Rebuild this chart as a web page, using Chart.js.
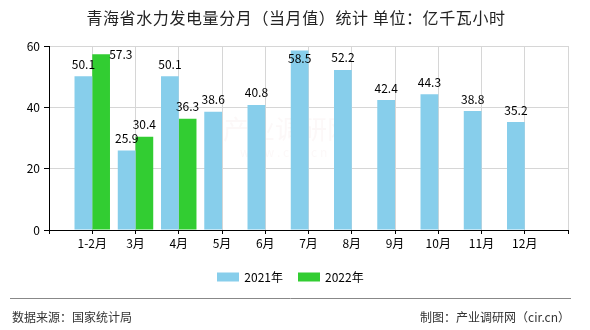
<!DOCTYPE html>
<html><head><meta charset="utf-8">
<script src="https://cdn.jsdelivr.net/npm/chart.js@4/dist/chart.umd.min.js"></script>
<style>html,body{margin:0;padding:0;background:#fff}#wrap{width:590px;height:330px}</style>
</head><body><div id="wrap"><canvas id="c" width="590" height="330"></canvas></div>
<script>
const chartTitle = '青海省水力发电量分月（当月值）统计 单位：亿千瓦小时';
const months = ['1-2月','3月','4月','5月','6月','7月','8月','9月','10月','11月','12月'];
const series2021 = [50.1,25.9,50.1,38.6,40.8,58.5,52.2,42.4,44.3,38.8,35.2];
const series2022 = [57.3,30.4,36.3];
const seriesNames = ['2021年','2022年'];
const yTicks = [0,20,40,60];
const sourceText = '数据来源：国家统计局';
const makerText = '制图：产业调研网（cir.cn）';

const COLORS = ['#87CEEB','#32CD32'];
const FONT = "'Noto Sans CJK SC', 'Noto Sans', sans-serif";

// pad with empty categories at both ends (axis spans one slot beyond first/last month)
const labels = [''].concat(months, ['']);
function pad(arr){ const out=[null]; for(let i=0;i<months.length;i++){ out.push(i<arr.length?arr[i]:null);} out.push(null); return out; }

const decor = {
  id:'decor',
  beforeDraw(chart){
    const ctx=chart.ctx;
    ctx.save();
    ctx.fillStyle='#fff'; ctx.fillRect(0,0,chart.width,chart.height);
    // faint watermark
    ctx.fillStyle='rgba(210,160,160,0.07)';
    ctx.font="26px "+FONT; ctx.textAlign='left'; ctx.textBaseline='middle';
    ctx.fillText('产业调研网',223,129);
    ctx.font="12px "+FONT;
    ctx.fillText('w w w . c i r . c n',240,152);
    ctx.restore();
  },
  afterDraw(chart){
    const ctx=chart.ctx;
    ctx.save();
    // title
    ctx.fillStyle='#222'; ctx.font="16px "+FONT; ctx.textAlign='center'; ctx.textBaseline='middle';
    try{ ctx.letterSpacing='0.6px'; }catch(e){}
    ctx.fillText(chartTitle,296,18);
    try{ ctx.letterSpacing='0px'; }catch(e){}
    // legend
    ctx.font="12px "+FONT; ctx.textAlign='left';
    const boxW=22, boxH=9, gapTxt=5, gapItem=15;
    let total=0; const ws=seriesNames.map(n=>ctx.measureText(n).width);
    ws.forEach((w,i)=>{ total+=boxW+gapTxt+w+(i<ws.length-1?gapItem:0); });
    let x=290.5-total/2; const ly=277;
    chart.data.datasets.forEach((ds,i)=>{
      ctx.fillStyle=ds.backgroundColor; ctx.fillRect(Math.round(x),ly-4.5,boxW,boxH);
      ctx.fillStyle='#000'; ctx.fillText(ds.label,x+boxW+gapTxt,ly);
      x+=boxW+gapTxt+ws[i]+gapItem;
    });
    // footer rule
    ctx.strokeStyle='#888'; ctx.lineWidth=1;
    ctx.beginPath(); ctx.moveTo(10,298.5); ctx.lineTo(571,298.5); ctx.stroke();
    ctx.fillStyle='#333'; ctx.font="12px "+FONT;
    ctx.textAlign='left'; ctx.fillText(sourceText,12,317);
    ctx.textAlign='right'; ctx.fillText(makerText,570,317);
    ctx.restore();
  }
};

const valueLabels = {
  id:'valueLabels',
  afterDatasetsDraw(chart){
    const ctx=chart.ctx, top=chart.chartArea.top;
    ctx.save();
    ctx.font="12px "+FONT; ctx.fillStyle='#000'; ctx.textAlign='center'; ctx.textBaseline='middle';
    chart.data.datasets.forEach((ds,di)=>{
      const meta=chart.getDatasetMeta(di);
      meta.data.forEach((el,i)=>{
        const v=ds.data[i]; if(v==null) return;
        let x=el.x, y=el.y-12;
        if(y-6<top){
          if(di===1){ x+=el.width+2; y=el.y; } else { y=el.y+8; }
        }
        ctx.fillText(v.toFixed(1),x,y);
      });
    });
    ctx.restore();
  }
};

new Chart(document.getElementById('c'),{
  type:'bar',
  data:{
    labels:labels,
    datasets:[
      {label:seriesNames[0],data:pad(series2021),backgroundColor:COLORS[0],borderWidth:0},
      {label:seriesNames[1],data:pad(series2022),backgroundColor:COLORS[1],borderWidth:0}
    ]
  },
  options:{
    responsive:false, animation:false, devicePixelRatio:1,
    layout:{padding:{top:46,right:22,bottom:80,left:0}},
    datasets:{bar:{categoryPercentage:0.82,barPercentage:1.0}},
    plugins:{legend:{display:false},title:{display:false},tooltip:{enabled:false}},
    scales:{
      x:{
        offset:false,
        grid:{offset:false,color:'#d6d6d6',tickColor:'#000',tickLength:4,drawOnChartArea:true},
        border:{color:'#000',width:1},
        ticks:{autoSkip:false,maxRotation:0,padding:2,color:'#000',font:{size:12,family:FONT}},
        afterFit(s){s.height=20;}
      },
      y:{
        min:0,max:60,
        afterBuildTicks(s){s.ticks=yTicks.map(v=>({value:v}));},
        grid:{color:'#d6d6d6',tickColor:'#000',tickLength:5},
        border:{color:'#000',width:1},
        ticks:{padding:4,color:'#000',font:{size:12,family:FONT}},
        afterFit(s){s.width=49;}
      }
    }
  },
  plugins:[decor,valueLabels]
});
</script></body></html>
